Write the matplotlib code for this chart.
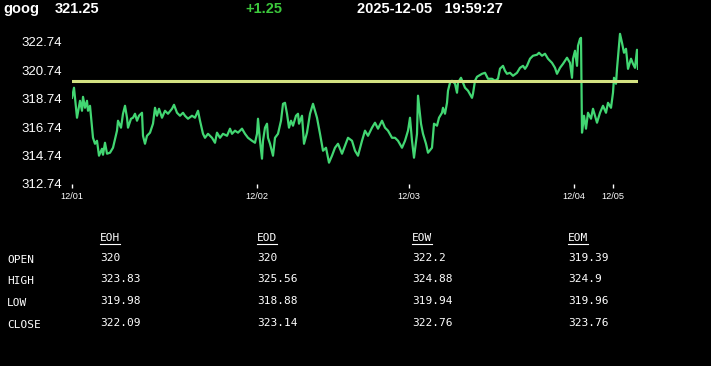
import matplotlib
matplotlib.use('Agg')
import matplotlib.pyplot as plt

# intraday series (bar index, price)
bar_idx = [0, 2, 5, 8, 10, 11, 13, 15, 16, 18, 21, 23, 25, 27, 30, 31, 33, 35, 38, 41,
           45, 46, 49, 51, 53, 55, 56, 59, 61, 63, 65, 67, 70, 71, 73, 75, 78, 81, 83, 85,
           87, 90, 93, 96, 100, 102, 105, 108, 111, 113, 116, 120, 123, 126, 128, 131, 133, 136, 140, 143,
           145, 148, 151, 155, 158, 160, 163, 166, 170, 173, 176, 180, 183, 185, 186, 188, 190, 191, 193, 195,
           196, 198, 201, 203, 206, 209, 211, 213, 215, 217, 219, 221, 224, 226, 227, 230, 232, 235, 238, 241,
           245, 248, 251, 254, 257, 260, 263, 266, 270, 273, 276, 280, 283, 286, 290, 293, 296, 300, 303, 306,
           310, 313, 316, 320, 323, 326, 330, 333, 336, 338, 340, 342, 345, 346, 349, 351, 354, 356, 360, 362,
           365, 367, 370, 371, 373, 375, 376, 378, 380, 383, 385, 386, 389, 391, 393, 396, 400, 401, 403, 405,
           410, 413, 416, 420, 423, 426, 428, 431, 433, 435, 438, 441, 445, 448, 451, 453, 455, 458, 461, 465,
           467, 470, 473, 476, 480, 483, 485, 488, 491, 495, 498, 500, 501, 503, 505, 506, 508, 509, 510, 512,
           514, 516, 519, 521, 525, 528, 531, 534, 536, 539, 541, 542, 544, 545, 547, 548, 550, 552, 554, 556,
           559, 561, 563, 565, 566]
price = [318.80, 319.51, 317.40, 318.59, 317.89, 318.87, 318.10, 318.59, 317.89, 318.24,
         315.99, 315.57, 315.78, 314.73, 315.22, 314.80, 315.64, 314.87, 314.94, 315.29,
         316.49, 317.19, 316.70, 317.68, 318.24, 317.40, 316.70, 317.33, 317.40, 317.68,
         317.19, 317.54, 317.75, 316.13, 315.57, 316.13, 316.35, 316.98, 318.10, 317.54,
         318.03, 317.40, 317.89, 317.68, 318.03, 318.31, 317.75, 317.54, 317.75, 317.54,
         317.33, 317.54, 317.40, 317.89, 317.19, 316.27, 315.99, 316.27, 315.99, 315.64,
         316.35, 315.99, 316.27, 316.13, 316.63, 316.27, 316.49, 316.35, 316.63, 316.27,
         315.99, 315.78, 315.64, 316.27, 317.33, 315.78, 314.52, 315.78, 316.70, 316.98,
         315.99, 315.57, 314.73, 315.99, 316.27, 317.19, 318.38, 318.45, 317.68, 316.70,
         317.19, 316.84, 317.54, 317.68, 316.98, 317.54, 315.57, 316.35, 317.68, 318.38,
         317.40, 316.27, 315.08, 315.29, 314.24, 314.73, 315.29, 315.57, 314.87, 315.43,
         315.99, 315.78, 315.08, 314.73, 315.78, 316.49, 316.13, 316.70, 317.05, 316.63,
         317.19, 316.70, 316.49, 315.99, 315.99, 315.78, 315.29, 315.78, 316.49, 317.40,
         315.78, 314.59, 316.27, 318.95, 316.98, 316.27, 315.57, 314.94, 315.29, 316.98,
         316.84, 317.40, 317.75, 318.10, 317.68, 318.45, 319.30, 319.86, 320.00, 319.79,
         319.16, 319.86, 320.21, 319.86, 319.51, 319.30, 318.80, 319.09, 320.00, 320.28,
         320.49, 320.56, 320.14, 320.14, 320.00, 320.14, 320.85, 321.05, 320.70, 320.49,
         320.56, 320.35, 320.56, 320.91, 321.05, 320.84, 321.05, 321.55, 321.76, 321.83,
         321.97, 321.76, 321.90, 321.55, 321.26, 320.91, 320.49, 320.91, 321.19, 321.62,
         321.26, 320.21, 321.55, 322.11, 321.05, 322.46, 322.95, 323.02, 316.35, 317.54,
         316.63, 317.75, 317.33, 318.03, 317.05, 317.75, 318.24, 317.75, 318.45, 318.10,
         319.16, 320.21, 319.79, 320.84, 322.46, 323.30, 322.67, 321.97, 322.25, 320.84,
         321.55, 321.19, 320.91, 322.18, 320.84]

open_price = 320.0
y_ticks = [312.74, 314.74, 316.74, 318.74, 320.74, 322.74]
day_idx = [0, 185, 337, 502, 541]
day_labels = ['12/01', '12/02', '12/03', '12/04', '12/05']

symbol = 'goog'
last = '321.25'
change = '+1.25'
stamp = '2025-12-05   19:59:27'

row_names = ['OPEN', 'HIGH', 'LOW', 'CLOSE']
col_names = ['EOH', 'EOD', 'EOW', 'EOM']
table_vals = [
    ['320', '320', '322.2', '319.39'],
    ['323.83', '325.56', '324.88', '324.9'],
    ['319.98', '318.88', '319.94', '319.96'],
    ['322.09', '323.14', '322.76', '323.76'],
]

LINE_GREEN = '#42d672'
YELLOW = '#d4e282'

plt.rcParams['font.family'] = ['Liberation Sans', 'DejaVu Sans']

W, H = 711, 366
fig = plt.figure(figsize=(W / 100, H / 100), dpi=100, facecolor='black')
ax = fig.add_axes([72 / W, 1 - 184 / H, 566 / W, 153 / H])
ax.set_facecolor('black')

ax.plot(bar_idx, price, color=LINE_GREEN, lw=1.6, zorder=2)
ax.axhline(open_price, color=YELLOW, lw=2.2, zorder=3)

ax.set_xlim(0, bar_idx[-1])
ax.set_ylim(312.74, 323.5)
for s in ax.spines.values():
    s.set_visible(False)
ax.set_yticks(y_ticks)
ax.set_yticklabels([f'{v:.2f}' for v in y_ticks], color='white', fontsize=9.5)
ax.tick_params(axis='y', length=0, pad=7)
ax.set_xticks(day_idx)
ax.set_xticklabels(day_labels, color='white', fontsize=6.6)
ax.tick_params(axis='x', length=3, width=1, color='white', pad=3)

# header line
hdr_y = 1 - 9 / H
fig.text(3 / W, hdr_y, symbol, color='white', fontsize=10.5, fontweight='bold', va='center')
fig.text(55 / W, hdr_y, last, color='white', fontsize=10.5, fontweight='bold', va='center')
fig.text(245 / W, hdr_y, change, color='#3cc83c', fontsize=10.5, fontweight='bold', va='center')
fig.text(357 / W, hdr_y, stamp, color='white', fontsize=10.5, fontweight='bold', va='center')

# summary table
mono = 'DejaVu Sans Mono'
col_x = [100, 257, 412, 568]
row_y = [260, 281, 303, 325]
for cx, name in zip(col_x, col_names):
    fig.text(cx / W, 1 - 238 / H, name, color='white', fontsize=8, family=mono, va='center')
    fig.add_artist(plt.Line2D([cx / W, (cx + 20) / W], [1 - 244 / H, 1 - 244 / H], color='white', lw=0.8))
for ry, name, vals in zip(row_y, row_names, table_vals):
    fig.text(7 / W, 1 - ry / H, name, color='white', fontsize=8, family=mono, va='center')
    for cx, v in zip(col_x, vals):
        fig.text(cx / W, 1 - (ry - 2) / H, v, color='white', fontsize=8, family=mono, va='center')

fig.savefig('out.png', dpi=100, facecolor='black')
